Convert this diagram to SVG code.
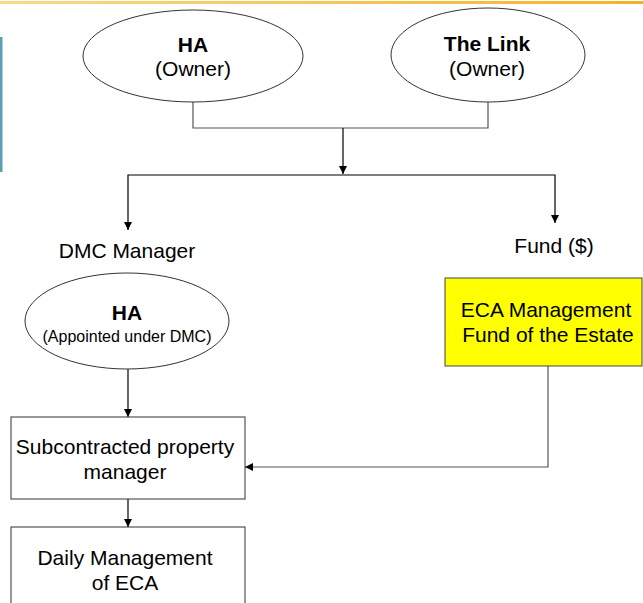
<svg xmlns="http://www.w3.org/2000/svg" width="643" height="603" viewBox="0 0 643 603">
<defs>
<linearGradient id="topg" x1="0" y1="0" x2="1" y2="0">
<stop offset="0" stop-color="#F9D98A"/>
<stop offset="1" stop-color="#F2B32A"/>
</linearGradient>
<marker id="ah" viewBox="0 0 10 10" refX="10" refY="5" markerWidth="8" markerHeight="8" markerUnits="userSpaceOnUse" orient="auto">
<path d="M0,0 L10,5 L0,10 z" fill="#000"/>
</marker>
<style>
text{font-family:"Liberation Sans",Arial,sans-serif;font-size:21px;fill:#000;text-anchor:middle}
.b{font-weight:bold}
.s{font-size:16px}
.shape{fill:#fff;stroke:#333;stroke-width:1}
.ln{fill:none;stroke:#000;stroke-width:1.2}
.gl{fill:none;stroke:#555;stroke-width:1.2}
</style>
</defs>
<rect x="0" y="0" width="643" height="603" fill="#fff"/>
<rect x="0" y="1" width="643" height="3" fill="url(#topg)"/>
<rect x="0" y="37" width="2.5" height="135" fill="#5B9EB1"/>

<g id="connectors">
<path class="gl" d="M193,102 V128 H488 V102"/>
<path class="ln" d="M343,128 V174" marker-end="url(#ah)"/>
<path class="ln" d="M343,175 H128 V230" marker-end="url(#ah)"/>
<path class="ln" d="M343,175 H555 V223" marker-end="url(#ah)"/>
<path class="ln" d="M128,369 V417" marker-end="url(#ah)"/>
<path class="gl" d="M548,366 V467 H245" marker-end="url(#ah)"/>
<path class="ln" d="M128,499 V527" marker-end="url(#ah)"/>
</g>

<g id="ha-owner">
<ellipse class="shape" cx="193" cy="56" rx="110" ry="46"/>
<text class="b" x="193" y="52">HA</text>
<text x="193" y="76">(Owner)</text>
</g>
<g id="link-owner">
<ellipse class="shape" cx="488" cy="55" rx="97" ry="47"/>
<text class="b" x="487" y="51">The Link</text>
<text x="487" y="76">(Owner)</text>
</g>
<g id="dmc-label">
<text x="127" y="258">DMC Manager</text>
</g>
<g id="fund-label">
<text x="554" y="253">Fund ($)</text>
</g>
<g id="ha-dmc">
<ellipse class="shape" cx="127" cy="321" rx="102" ry="48"/>
<text class="b" x="127" y="320">HA</text>
<text class="s" x="127" y="342">(Appointed under DMC)</text>
</g>
<g id="eca-fund">
<rect x="445" y="278" width="197" height="88" fill="#FFFF00" stroke="#444" stroke-width="1"/>
<text x="546" y="317">ECA Management</text>
<text x="548" y="342">Fund of the Estate</text>
</g>
<g id="sub-manager">
<rect class="shape" x="11" y="417" width="234" height="82"/>
<text x="125" y="454">Subcontracted property</text>
<text x="125" y="479">manager</text>
</g>
<g id="daily">
<rect class="shape" x="11" y="527" width="234" height="80"/>
<text x="125" y="565">Daily Management</text>
<text x="125" y="590">of ECA</text>
</g>
</svg>
